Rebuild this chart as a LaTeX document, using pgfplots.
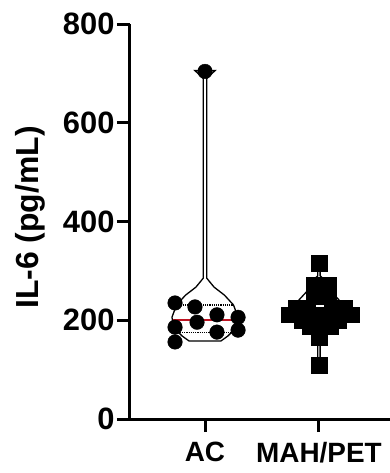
\documentclass[border=0pt]{standalone}
\usepackage{fontspec}
\setmainfont{Liberation Sans}
\usepackage{pgfplots}
\pgfplotsset{compat=1.18}
\definecolor{medred}{RGB}{190,20,35}
\begin{document}
\begin{tikzpicture}
\useasboundingbox (-130bp,-54bp) rectangle (260bp,419bp);
\begin{axis}[
  at={(0,0)}, anchor=south west,
  scale only axis, width=260bp, height=395bp,
  xmin=-0.658, xmax=1.623, ymin=0, ymax=800,
  axis x line=bottom, axis y line=left,
  axis line style={line width=3bp, -},
  ytick={0,200,400,600,800},
  xtick={0,1}, xticklabels={AC,MAH/PET},
  tick style={line width=3bp, black},
  major tick length=13bp,
  tick align=outside,
  yticklabel style={font=\fontsize{31}{34}\selectfont\bfseries, xshift=1bp},
  xticklabel style={font=\fontsize{28}{32}\selectfont\bfseries, yshift=-7bp},
  /pgf/number format/assume math mode=true,
  every axis y label/.style={at={(axis description cs:-0.385,0.51)}, rotate=90, anchor=center, font=\fontsize{32}{36}\selectfont\bfseries},
  ylabel={IL-6 (pg/mL)},
  clip=false,
]
% AC violin
\addplot[black, line width=1.3bp, fill=white] coordinates {
 (0.09,706)(0.016,690)(0.016,285)(0.08,267)(0.17,251)(0.25,231)(0.29,206)(0.27,184)(0.2,168)(0.14,158)
 (-0.14,158)(-0.2,168)(-0.27,184)(-0.29,206)(-0.25,231)(-0.17,251)(-0.08,267)(-0.016,285)(-0.016,690)(-0.09,706)} -- cycle;
\addplot[black, densely dotted, line width=1.2bp] coordinates {(-0.25,231)(0.25,231)};
\addplot[black, densely dotted, line width=1.2bp] coordinates {(-0.24,176)(0.24,176)};
\addplot[medred, line width=2.5bp] coordinates {(-0.285,201)(0.285,201)};
% MAH/PET violin
\addplot[black, line width=1.3bp, fill=white] coordinates {
 (1.01,316)(1.01,290)(1.06,280)(1.1,260)(1.2,235)(1.28,212)(1.15,195)(1.05,180)(1.01,166)(1.01,109)
 (0.99,109)(0.99,166)(0.95,180)(0.85,195)(0.74,212)(0.8,235)(0.9,260)(0.94,280)(0.99,290)(0.99,316)} -- cycle;
% AC points
\addplot[only marks, mark=*, mark size=7.3bp, mark options={fill=black, draw=black}] coordinates {
 (-0.263,235)(-0.088,227)(0.105,211)(0.29,206)(-0.07,196)(-0.263,186)(0.29,180)(0.105,176)(-0.263,156)(0.0,704)};
% MAH/PET points
\addplot[only marks, mark=square*, mark size=7.8bp, mark options={fill=black, draw=black}] coordinates {
 (1.0,316)
 (0.955,271)(1.08,271)
 (0.955,249)(1.08,249)
 (0.80,225)(0.90,225)(1.11,225)(1.22,225)
 (0.74,211)(1.01,211)(1.28,211)
 (0.85,200)(0.96,200)(1.06,200)(1.17,200)
 (0.92,188)(1.10,188)
 (1.0,166)
 (1.0,109)};
\end{axis}
\end{tikzpicture}
\end{document}
